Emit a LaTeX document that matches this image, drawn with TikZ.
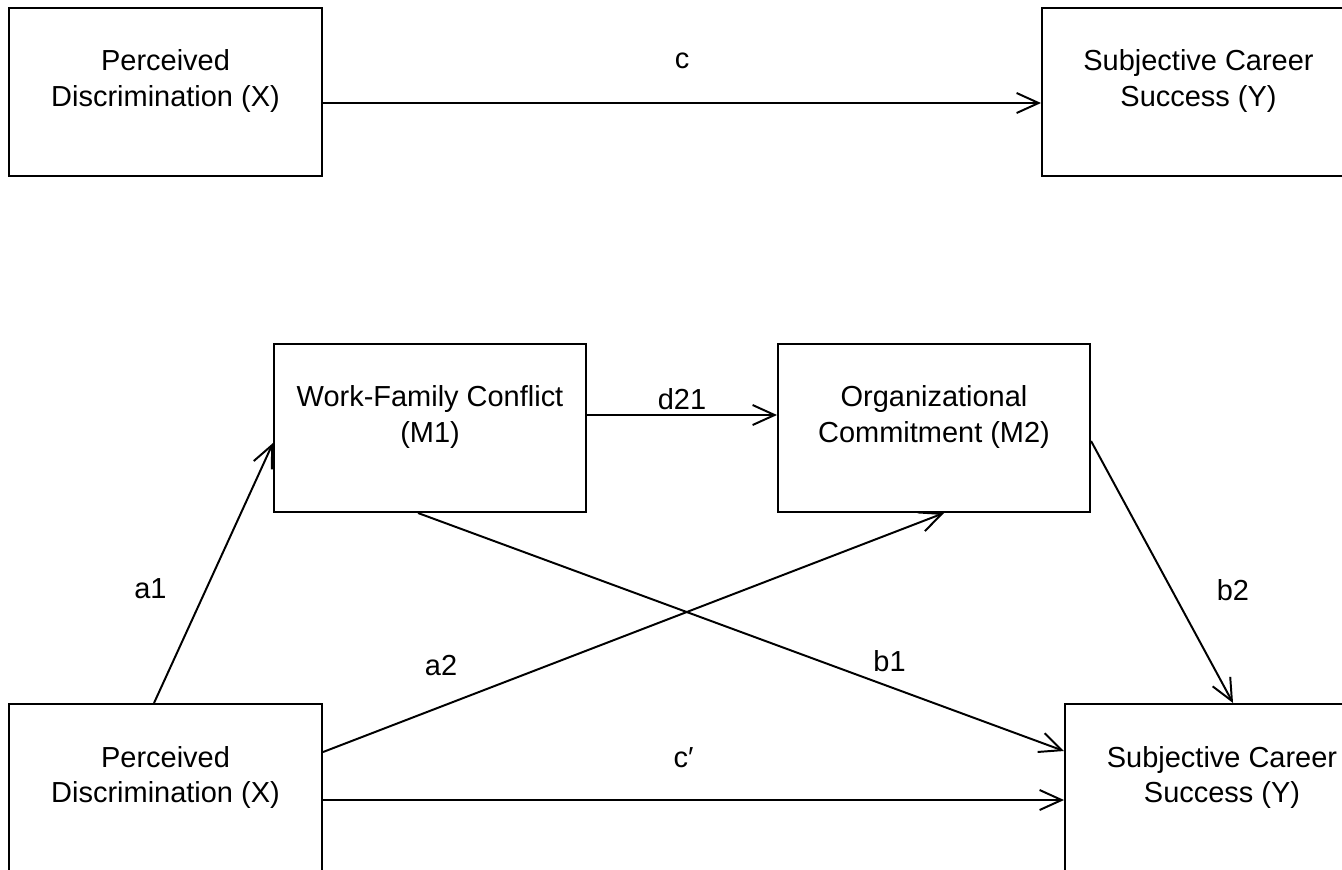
\documentclass[tikz,border=0pt]{standalone}
\usepackage{fontspec}
\setmainfont{Liberation Sans}
\usetikzlibrary{arrows.meta}
\def\pxu{0.025cm}
\begin{document}
\begin{tikzpicture}[x=\pxu, y=-\pxu, font=\fontsize{20.6}{24.9}\selectfont]
    \tikzstyle{box}=[draw, line width=1.4pt, anchor=north west, minimum width=7.825cm, minimum height=4.2cm, inner sep=0pt]
    \tikzstyle{txt}=[align=center, inner sep=0pt]
    \tikzstyle{arr}=[-{Straight Barb[length=0.55cm, width=0.5cm]}, line width=1.4pt]
    \tikzstyle{lbl}=[inner sep=0pt]
    \clip (0,0) rectangle (1342,869);

    \node (pdx) [box] at (8,7) {};
    \node (scs) [box] at (1041,7) {};
    \node (wfc) [box, minimum width=7.8cm] at (273,343) {};
    \node (oc) [box, minimum width=7.8cm] at (777,343) {};
    \node (pdx2) [box] at (8,703) {};
    \node (scs2) [box, minimum width=7.85cm] at (1064,703) {};

    \node (pdx-t) [txt] at ([yshift=-74*\pxu]pdx.north) {Perceived\\Discrimination (X)};
    \node (scs-t) [txt] at ([yshift=-74*\pxu]scs.north) {Subjective Career\\Success (Y)};
    \node (wfc-t) [txt] at ([yshift=-74*\pxu]wfc.north) {Work-Family Conflict\\(M1)};
    \node (oc-t) [txt] at ([yshift=-74*\pxu]oc.north) {Organizational\\Commitment (M2)};
    \node (pdx2-t) [txt] at ([yshift=-74*\pxu]pdx2.north) {Perceived\\Discrimination (X)};
    \node (scs2-t) [txt] at ([yshift=-74*\pxu]scs2.north) {Subjective Career\\Success (Y)};

    \draw [arr] ([yshift=-11*\pxu]pdx.east) -- node [lbl, yshift=42*\pxu] {c} ([yshift=-11*\pxu]scs.west);

    \draw [arr] ([yshift=13*\pxu]wfc.east) -- node [lbl, yshift=16*\pxu] {d21} ([yshift=13*\pxu]oc.west);
    \draw [arr] ([xshift=-11.5*\pxu]pdx2.north) -- node [lbl, pos=.44, xshift=-56*\pxu] {a1} ([yshift=-15*\pxu]wfc.west);
    \draw [arr] ([yshift=36*\pxu]pdx2.east) -- node [lbl, pos=.19, yshift=41*\pxu] {a2} ([xshift=10*\pxu]oc.south);
    \draw [arr] ([xshift=-12*\pxu]wfc.south) -- node [lbl, pos=.73, yshift=26*\pxu] {b1} ([yshift=37*\pxu]scs2.west);
    \draw [arr] ([yshift=-13*\pxu]oc.east) -- node [lbl, pos=.57, xshift=61*\pxu] {b2} ([xshift=11*\pxu]scs2.north);
    \draw [arr] ([yshift=-12*\pxu]pdx2.east) -- node [lbl, xshift=-10*\pxu, yshift=42*\pxu] {c′} ([yshift=-12*\pxu]scs2.west);
\end{tikzpicture}
\end{document}
